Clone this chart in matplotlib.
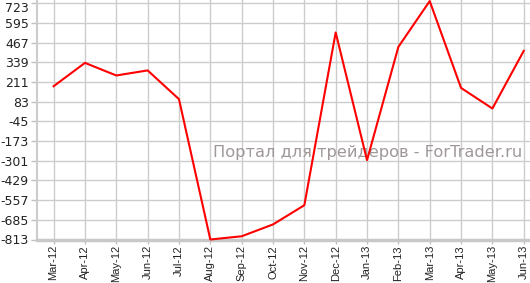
import matplotlib
matplotlib.use('Agg')
import matplotlib.pyplot as plt
import matplotlib.transforms as mtransforms
import numpy as np

# месяцы и значения
months = ['Mar-12', 'Apr-12', 'May-12', 'Jun-12', 'Jul-12', 'Aug-12', 'Sep-12', 'Oct-12',
          'Nov-12', 'Dec-12', 'Jan-13', 'Feb-13', 'Mar-13', 'Apr-13', 'May-13', 'Jun-13']
values = [184, 336, 254, 287, 100, -813, -792, -715,
          -590, 534, -297, 440, 738, 173, 39, 414]
y_ticks = [-813, -685, -557, -429, -301, -173, -45, 83, 211, 339, 467, 595, 723]
watermark = 'Портал для трейдеров - ForTrader.ru'

fig = plt.figure(figsize=(5.3, 2.83), dpi=100)
ax = fig.add_axes([37/530, 43.5/283, 1 - 37/530, 1 - 43.5/283])

x = np.arange(len(months))
ax.plot(x, values, color='#ff0000', linewidth=1.5, zorder=3, clip_on=False)

ax.set_xlim(-0.53, len(months) - 1 + 0.2)
ax.set_ylim(-813, 745)
ax.set_xticks(x)
ax.set_xticklabels(months, rotation=90, fontsize=8, family='Liberation Sans', color='#222222')
ax.set_yticks(y_ticks)
ax.set_yticklabels([str(v) for v in y_ticks], fontsize=9, family='DejaVu Sans', color='#222222')

ax.grid(True, color='#cccccc', linewidth=1)
ax.set_axisbelow(True)
ax.tick_params(axis='y', color='#c0c0c0', length=4, width=1, pad=2)
ax.tick_params(axis='x', color='#c0c0c0', length=3, width=1, pad=1)

# верхнюю подпись сдвигаем вниз, чтобы не обрезалась
top_lbl = ax.get_yticklabels()[-1]
top_lbl.set_transform(top_lbl.get_transform() +
                      mtransforms.ScaledTranslation(0, -0.035, fig.dpi_scale_trans))

for side in ['top', 'right']:
    ax.spines[side].set_visible(False)
ax.spines['left'].set_color('#cccccc')
ax.spines['left'].set_linewidth(1.5)
ax.spines['bottom'].set_color('#c8c8c8')
ax.spines['bottom'].set_linewidth(2.5)

ax.text(368/530, 1 - 152.5/283, watermark, fontsize=11.7, color='#a09898',
        ha='center', va='center', family='DejaVu Sans', zorder=2,
        transform=fig.transFigure)

fig.savefig('out.png', dpi=100)
